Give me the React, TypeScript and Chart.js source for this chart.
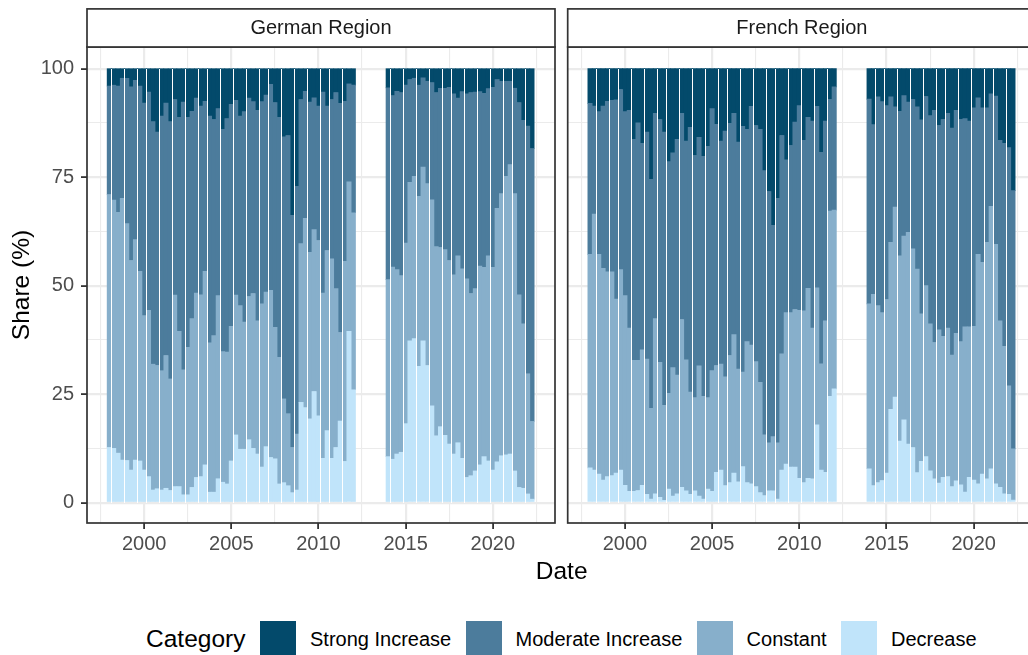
import React, { useEffect, useRef } from "react";
import { Chart, registerables } from "chart.js";

Chart.register(...registerables);

// ---------- data ----------
const QUARTERS = [
  "1998Q1", "1998Q2", "1998Q3", "1998Q4", "1999Q1", "1999Q2", "1999Q3", "1999Q4",
  "2000Q1", "2000Q2", "2000Q3", "2000Q4", "2001Q1", "2001Q2", "2001Q3", "2001Q4",
  "2002Q1", "2002Q2", "2002Q3", "2002Q4", "2003Q1", "2003Q2", "2003Q3", "2003Q4",
  "2004Q1", "2004Q2", "2004Q3", "2004Q4", "2005Q1", "2005Q2", "2005Q3", "2005Q4",
  "2006Q1", "2006Q2", "2006Q3", "2006Q4", "2007Q1", "2007Q2", "2007Q3", "2007Q4",
  "2008Q1", "2008Q2", "2008Q3", "2008Q4", "2009Q1", "2009Q2", "2009Q3", "2009Q4",
  "2010Q1", "2010Q2", "2010Q3", "2010Q4", "2011Q1", "2011Q2", "2011Q3", "2011Q4",
  "2012Q1",
  "2014Q1", "2014Q2", "2014Q3", "2014Q4", "2015Q1", "2015Q2", "2015Q3", "2015Q4",
  "2016Q1", "2016Q2", "2016Q3", "2016Q4", "2017Q1", "2017Q2", "2017Q3", "2017Q4",
  "2018Q1", "2018Q2", "2018Q3", "2018Q4", "2019Q1", "2019Q2", "2019Q3", "2019Q4",
  "2020Q1", "2020Q2", "2020Q3", "2020Q4", "2021Q1", "2021Q2", "2021Q3", "2021Q4",
  "2022Q1", "2022Q2",
];

const CATEGORIES = ["Strong Increase", "Moderate Increase", "Constant", "Decrease"];
const CATEGORY_COLORS = ["#034A6B", "#4C7C9C", "#87AFCB", "#C0E4FA"];

const germanDecrease = [
  12.7, 12.5, 11.4, 9.8, 9.7, 7.5, 9.8, 9.6, 7.5, 6.0,
  2.9, 3.2, 2.9, 3.3, 2.8, 3.7, 3.7, 1.8, 1.8, 3.5,
  5.8, 6.0, 8.7, 2.4, 2.4, 5.5, 4.7, 4.3, 9.6, 15.6,
  12.3, 12.3, 14.5, 12.5, 11.2, 8.2, 12.9, 10.4, 10.1, 4.3,
  4.6, 3.9, 2.3, 2.9, 23.1, 21.9, 19.3, 25.6, 20.0, 10.2,
  16.6, 10.2, 12.7, 18.8, 9.5, 39.5, 26.0,
  10.6, 10.0, 11.2, 11.6, 18.2, 37.3, 37.8, 31.4, 37.3, 31.6,
  22.3, 15.4, 17.5, 15.5, 13.5, 11.2, 13.8, 10.2, 5.8, 6.2,
  7.3, 8.7, 10.6, 9.6, 7.5, 9.4, 10.8, 11.0, 11.2, 7.3,
  3.5, 3.3, 2.0, 0.8,
];
const germanConstant = [
  58.3, 57.2, 55.5, 60.3, 54.6, 48.3, 50.8, 43.7, 35.6, 38.3,
  29.0, 28.4, 27.5, 30.6, 25.7, 44.1, 35.8, 28.8, 34.0, 38.9,
  42.5, 41.9, 44.6, 34.4, 36.1, 42.2, 30.1, 30.4, 31.0, 32.2,
  33.1, 29.3, 33.0, 35.7, 30.7, 37.6, 35.6, 38.5, 30.3, 29.2,
  19.3, 16.6, 10.4, 12.9, 36.6, 43.6, 38.4, 37.3, 40.4, 38.1,
  41.5, 46.0, 36.6, 20.4, 46.1, 34.4, 40.8,
  40.8, 44.3, 42.5, 40.7, 41.6, 36.5, 37.4, 39.2, 40.0, 41.9,
  47.5, 43.6, 41.3, 42.8, 42.3, 41.3, 43.1, 43.7, 45.8, 42.0,
  42.0, 45.8, 43.6, 47.3, 46.7, 58.4, 60.4, 64.2, 66.7, 63.9,
  44.4, 37.9, 27.7, 17.9,
];
const germanModerate = [
  25.0, 26.5, 29.1, 27.7, 33.5, 40.0, 36.7, 42.7, 49.0, 50.3,
  55.9, 53.8, 58.7, 58.2, 59.3, 45.1, 49.3, 61.7, 53.0, 47.8,
  44.9, 43.5, 39.2, 52.3, 49.8, 43.1, 51.2, 53.8, 51.2, 44.9,
  43.7, 48.5, 45.7, 44.2, 48.5, 46.6, 45.4, 47.5, 51.8, 55.3,
  60.4, 64.1, 53.5, 57.1, 33.2, 29.3, 34.6, 30.4, 31.0, 46.3,
  33.3, 36.7, 45.2, 52.8, 36.9, 22.6, 29.4,
  44.2, 39.5, 41.1, 42.2, 36.4, 23.7, 22.6, 25.6, 20.6, 23.6,
  27.0, 35.5, 36.7, 37.2, 39.9, 41.7, 36.3, 40.8, 42.6, 46.3,
  45.3, 40.2, 40.1, 38.5, 41.5, 29.7, 25.9, 21.9, 19.2, 24.3,
  44.3, 46.9, 57.1, 62.9,
];
const germanStrong = [
  4.0, 3.8, 4.0, 2.2, 2.2, 4.2, 2.7, 4.0, 7.9, 5.4,
  12.2, 14.6, 10.9, 7.9, 12.2, 7.1, 11.2, 7.7, 11.2, 9.8,
  6.8, 8.6, 7.5, 10.9, 11.7, 9.2, 14.0, 11.5, 8.2, 7.3,
  10.9, 9.9, 6.8, 7.6, 9.6, 7.6, 6.1, 3.6, 7.8, 11.2,
  15.7, 15.4, 33.8, 27.1, 7.1, 5.2, 7.7, 6.7, 8.6, 5.4,
  8.6, 7.1, 5.5, 8.0, 7.5, 3.5, 3.8,
  4.4, 6.2, 5.2, 5.5, 3.8, 2.5, 2.2, 3.8, 2.1, 2.9,
  3.2, 5.5, 4.5, 4.5, 4.3, 5.8, 6.8, 5.3, 5.8, 5.5,
  5.4, 5.3, 5.7, 4.6, 4.3, 2.5, 2.9, 2.9, 2.9, 4.5,
  7.8, 11.9, 13.2, 18.4,
];

const frenchDecrease = [
  8.0, 7.5, 6.6, 5.2, 6.0, 6.2, 6.8, 7.5, 4.0, 2.6,
  2.6, 2.8, 4.0, 1.9, 0.8, 2.0, 1.2, 0.5, 3.1, 1.5,
  2.0, 3.5, 2.7, 1.9, 2.7, 1.5, 0.8, 3.1, 2.6, 7.0,
  7.5, 3.9, 4.6, 6.8, 4.8, 8.3, 4.6, 4.3, 3.7, 2.3,
  1.6, 2.7, 2.7, 0.8, 7.5, 8.9, 8.2, 8.2, 5.6, 4.6,
  5.6, 5.5, 17.9, 7.5, 7.0, 24.5, 26.2,
  7.8, 3.9, 4.6, 5.1, 6.8, 21.5, 24.3, 14.2, 19.1, 13.5,
  12.7, 6.9, 9.5, 10.6, 7.3, 5.5, 4.5, 5.8, 6.0, 3.7,
  5.0, 4.1, 2.4, 5.8, 5.2, 4.3, 6.6, 5.5, 7.8, 4.3,
  3.5, 2.0, 1.9, 0.6,
];
const frenchConstant = [
  49.2, 59.0, 50.6, 48.8, 47.2, 47.0, 40.1, 46.2, 43.7, 37.6,
  30.2, 30.0, 31.2, 31.2, 20.9, 40.4, 31.1, 21.9, 22.1, 29.6,
  27.4, 38.7, 30.2, 23.6, 21.5, 30.0, 23.7, 21.1, 27.8, 24.6,
  24.4, 25.1, 29.3, 31.9, 26.0, 21.8, 32.5, 32.0, 28.8, 25.4,
  14.0, 11.1, 12.5, 13.0, 26.8, 34.9, 35.6, 36.3, 38.7, 39.6,
  43.8, 34.7, 31.6, 24.5, 34.9, 42.7, 41.2,
  38.0, 44.1, 40.8, 38.7, 40.0, 38.5, 43.8, 42.7, 42.3, 48.8,
  45.8, 46.9, 34.0, 39.4, 33.9, 31.4, 35.3, 32.5, 34.2, 30.3,
  34.0, 33.0, 38.1, 34.7, 35.4, 52.9, 48.8, 54.5, 60.5, 55.2,
  38.4, 34.0, 25.0, 11.8,
];
const frenchModerate = [
  34.8, 24.9, 32.9, 37.4, 39.3, 39.5, 45.9, 41.5, 42.4, 50.2,
  50.9, 54.7, 47.6, 52.3, 52.8, 47.3, 56.0, 63.0, 53.4, 49.5,
  54.3, 47.5, 50.4, 61.0, 55.8, 52.7, 55.3, 57.9, 60.4, 55.6,
  51.4, 56.6, 53.5, 51.0, 52.3, 56.6, 48.9, 55.0, 54.4, 58.3,
  60.9, 57.9, 48.7, 56.3, 50.3, 35.2, 38.5, 43.2, 47.2, 39.3,
  39.4, 47.7, 41.8, 48.7, 46.0, 25.7, 28.4,
  47.2, 39.1, 48.1, 48.6, 44.7, 33.5, 23.1, 33.3, 32.4, 30.0,
  34.4, 37.4, 44.7, 43.6, 48.0, 53.5, 47.1, 50.0, 49.5, 52.3,
  51.4, 51.2, 48.0, 47.4, 50.4, 36.1, 35.6, 31.0, 25.9, 34.2,
  41.6, 46.8, 54.9, 59.5,
];
const frenchStrong = [
  8.0, 8.6, 9.9, 8.6, 7.5, 7.3, 7.2, 4.8, 9.9, 9.6,
  16.3, 12.5, 17.2, 14.6, 25.5, 10.3, 11.7, 14.6, 21.4, 19.4,
  16.3, 10.3, 16.7, 13.5, 20.0, 15.8, 20.2, 17.9, 9.2, 12.8,
  16.7, 14.4, 12.6, 10.3, 16.9, 13.3, 14.0, 8.7, 13.1, 14.0,
  23.5, 28.3, 36.1, 29.9, 15.4, 21.0, 17.7, 12.3, 8.5, 16.5,
  11.2, 12.1, 8.7, 19.3, 12.1, 7.1, 4.2,
  7.0, 12.9, 6.5, 7.6, 8.5, 6.5, 8.8, 9.8, 6.2, 7.7,
  7.1, 8.8, 11.8, 6.4, 10.8, 9.6, 13.1, 11.7, 10.3, 13.7,
  9.6, 11.7, 11.5, 12.1, 9.0, 6.7, 9.0, 9.0, 5.8, 6.3,
  16.5, 17.2, 18.2, 28.1,
];

const X_TICKS = [1997.5, 2000, 2002.5, 2005, 2007.5, 2010, 2012.5, 2015, 2017.5, 2020, 2022.5];
const X_TICK_LABELS = ["2000", "2005", "2010", "2015", "2020"];
const Y_TICKS = [0, 12.5, 25, 37.5, 50, 62.5, 75, 87.5, 100];
const Y_TICK_LABELS = ["0", "25", "50", "75", "100"];

// ---------- layout / style ----------
const X_MIN = 1996.72;
const X_MAX = 2023.57;
const Y_MIN = -4.7;
const Y_MAX = 105;
const BAR_FRACTION = 0.92;
const STRIP_TOP = 8.9;
const PANEL_TOP = 47;
const PANEL_BOTTOM = 523;
const CANVAS_H = 560;
const FONT = '"Liberation Sans", Arial, Helvetica, sans-serif';

function quarterToYear(q: string): number {
  const y = parseInt(q.slice(0, 4), 10);
  const n = parseInt(q.slice(5), 10);
  return y + (n - 1) * 0.25;
}

const isMajorX = (v: number) => X_TICK_LABELS.includes(String(v));
const isMajorY = (v: number) => Y_TICK_LABELS.includes(String(v));

const gapPlugin = {
  id: "barGaps",
  afterDatasetsDraw(chart: any) {
    const { ctx } = chart;
    const xs = chart.scales.x;
    const ys = chart.scales.y;
    const pts = chart.data.datasets[0].data as { x: number }[];
    const half = 0.125 * BAR_FRACTION;
    const yTop = Math.round(ys.getPixelForValue(100));
    const yBot = Math.round(ys.getPixelForValue(0));
    ctx.save();
    ctx.fillStyle = "#FFFFFF";
    for (let i = 0; i + 1 < pts.length; i++) {
      const a = pts[i].x;
      const b = pts[i + 1].x;
      if (b - a > 0.3) continue;
      const gl = xs.getPixelForValue(a + half);
      const gr = xs.getPixelForValue(b - half);
      const k = Math.ceil(gl - 0.5);
      if (k + 0.5 <= gr) ctx.fillRect(k, yTop, 1, yBot - yTop);
    }
    ctx.restore();
  },
};

const stripPlugin = {
  id: "facetStrip",
  afterDraw(chart: any, _args: any, opts: any) {
    const { ctx, chartArea: ca } = chart;
    const w = ca.right - ca.left;
    ctx.save();
    ctx.strokeStyle = "#333333";
    ctx.lineWidth = 1.7;
    ctx.strokeRect(ca.left, ca.top, w, ca.bottom - ca.top);
    ctx.fillStyle = "#FFFFFF";
    ctx.fillRect(ca.left, STRIP_TOP, w, ca.top - STRIP_TOP);
    ctx.strokeRect(ca.left, STRIP_TOP, w, ca.top - STRIP_TOP);
    ctx.fillStyle = "#1A1A1A";
    ctx.font = `20px ${FONT}`;
    ctx.textAlign = "center";
    ctx.textBaseline = "middle";
    ctx.fillText(opts.title, (ca.left + ca.right) / 2, (STRIP_TOP + ca.top) / 2 + 0.8);
    ctx.restore();
  },
};

type Series = { decrease: number[]; constant: number[]; moderate: number[]; strong: number[] };

function Panel(props: { title: string; series: Series; showYAxis: boolean; left: number; width: number; padRight: number }) {
  const ref = useRef<HTMLCanvasElement | null>(null);
  const { title, series, showYAxis, left, width, padRight } = props;

  useEffect(() => {
    if (!ref.current) return;
    const xs = QUARTERS.map(quarterToYear);
    const toPts = (arr: number[]) => arr.map((v, i) => ({ x: xs[i], y: v }));
    const datasets = [
      { label: "Decrease", data: toPts(series.decrease), backgroundColor: CATEGORY_COLORS[3] },
      { label: "Constant", data: toPts(series.constant), backgroundColor: CATEGORY_COLORS[2] },
      { label: "Moderate Increase", data: toPts(series.moderate), backgroundColor: CATEGORY_COLORS[1] },
      { label: "Strong Increase", data: toPts(series.strong), backgroundColor: CATEGORY_COLORS[0] },
    ].map((d) => ({ ...d, stack: "s", borderWidth: 0, barPercentage: 1, categoryPercentage: 1 }));

    const chart = new Chart(ref.current, {
      type: "bar",
      data: { datasets: datasets as any },
      plugins: [gapPlugin, stripPlugin],
      options: {
        animation: false,
        responsive: false,
        devicePixelRatio: 1,
        events: [],
        layout: { padding: { top: PANEL_TOP, right: padRight, bottom: 0, left: 0 } },
        plugins: {
          legend: { display: false },
          tooltip: { enabled: false },
          facetStrip: { title },
        } as any,
        scales: {
          x: {
            type: "linear",
            min: X_MIN,
            max: X_MAX,
            stacked: true,
            offset: false,
            afterBuildTicks: (s: any) => {
              s.ticks = X_TICKS.map((v) => ({ value: v }));
            },
            afterFit: (s: any) => {
              s.height = CANVAS_H - PANEL_BOTTOM;
            },
            border: { display: false },
            grid: {
              offset: false,
              color: "#EBEBEB",
              lineWidth: (c: any) => (isMajorX(c.tick.value) ? 2.2 : 1.1),
              drawTicks: true,
              tickLength: 6,
              tickColor: (c: any) => (isMajorX(c.tick.value) ? "#333333" : "rgba(0,0,0,0)"),
              tickWidth: (c: any) => (isMajorX(c.tick.value) ? 1.8 : 0),
            },
            ticks: {
              autoSkip: false,
              maxRotation: 0,
              padding: 3,
              color: "#4D4D4D",
              font: { family: FONT, size: 20 },
              callback: (v: any) => (isMajorX(Number(v)) ? String(v) : ""),
            },
          },
          y: {
            type: "linear",
            min: Y_MIN,
            max: Y_MAX,
            stacked: true,
            afterBuildTicks: (s: any) => {
              s.ticks = Y_TICKS.map((v) => ({ value: v }));
            },
            afterFit: (s: any) => {
              s.width = showYAxis ? 87 : 7.7;
            },
            border: { display: false },
            title: {
              display: showYAxis,
              text: "Share (%)",
              color: "#000000",
              font: { family: FONT, size: 24.5 },
              padding: { top: 7.3, bottom: 0 },
            },
            grid: {
              color: "#EBEBEB",
              lineWidth: (c: any) => (isMajorY(c.tick.value) ? 2.2 : 1.1),
              drawTicks: showYAxis,
              tickLength: 6,
              tickColor: (c: any) => (isMajorY(c.tick.value) ? "#333333" : "rgba(0,0,0,0)"),
              tickWidth: (c: any) => (isMajorY(c.tick.value) ? 1.8 : 0),
            },
            ticks: {
              display: showYAxis,
              autoSkip: false,
              padding: 7,
              color: "#4D4D4D",
              font: { family: FONT, size: 20 },
              callback: (v: any) => (isMajorY(Number(v)) ? String(v) : ""),
            },
          },
        },
      } as any,
    });
    return () => chart.destroy();
  }, []);

  return (
    <canvas
      ref={ref}
      width={width}
      height={CANVAS_H}
      style={{ position: "absolute", left, top: 0, width, height: CANVAS_H }}
    />
  );
}

export default function App() {
  const german: Series = { decrease: germanDecrease, constant: germanConstant, moderate: germanModerate, strong: germanStrong };
  const french: Series = { decrease: frenchDecrease, constant: frenchConstant, moderate: frenchModerate, strong: frenchStrong };
  return (
    <div
      style={{
        position: "absolute",
        left: 0,
        top: 0,
        width: 1028,
        height: 655,
        overflow: "hidden",
        background: "#FFFFFF",
        fontFamily: FONT,
      }}
    >
      <Panel title="German Region" series={german} showYAxis={true} left={0} width={560} padRight={5} />
      <Panel title="French Region" series={french} showYAxis={false} left={560} width={476} padRight={0} />
      <div
        style={{
          position: "absolute",
          left: 461.7,
          width: 200,
          top: 558.5,
          textAlign: "center",
          fontSize: 24.5,
          lineHeight: "24.5px",
          color: "#000000",
        }}
      >
        Date
      </div>
      <div
        style={{
          position: "absolute",
          left: 146,
          top: 621,
          height: 36,
          display: "flex",
          alignItems: "center",
          whiteSpace: "nowrap",
        }}
      >
        <span style={{ fontSize: 24.5, lineHeight: "24.5px", marginRight: 14.6, color: "#000000" }}>Category</span>
        {CATEGORIES.map((c, i) => (
          <React.Fragment key={c}>
            <div style={{ flex: "0 0 36px", width: 36, height: 36, background: CATEGORY_COLORS[i], marginRight: 14 }} />
            <span style={{ fontSize: 20, lineHeight: "20px", marginRight: 14.3, color: "#000000" }}>{c}</span>
          </React.Fragment>
        ))}
      </div>
    </div>
  );
}
